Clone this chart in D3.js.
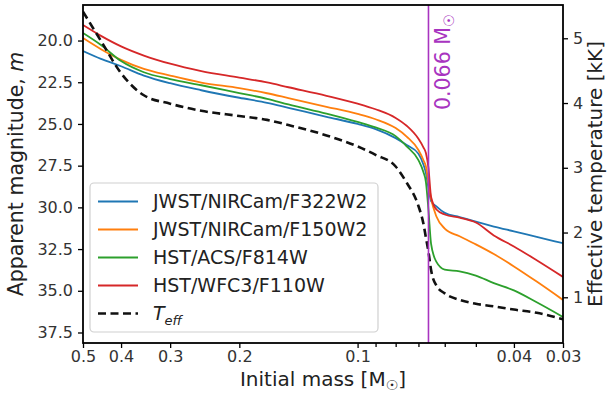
<!DOCTYPE html>
<html>
<head>
<meta charset="utf-8">
<script src="https://cdn.jsdelivr.net/npm/d3@7"></script>
<style>
  html, body { margin: 0; padding: 0; background: #fff; }
  svg { display: block; font-family: "DejaVu Sans", sans-serif; }
</style>
</head>
<body>
<svg id="chart" width="608" height="400"></svg>
<script>
// ---------------- data ----------------
const masses = [0.5, 0.45, 0.4, 0.35, 0.3, 0.25, 0.2, 0.17, 0.15, 0.12, 0.1, 0.09, 0.08, 0.075, 0.07, 0.068, 0.067, 0.066, 0.065, 0.063, 0.06, 0.055, 0.05, 0.045, 0.04, 0.035, 0.03];
const magF322W2 = [20.63, 21.10, 21.54, 22.10, 22.56, 22.98, 23.43, 23.73, 24.03, 24.57, 25.00, 25.31, 25.85, 26.26, 26.78, 27.43, 27.94, 28.84, 29.62, 29.94, 30.33, 30.58, 30.86, 31.15, 31.44, 31.77, 32.15];
const magF150W2 = [19.85, 20.52, 21.16, 21.70, 22.10, 22.52, 22.85, 23.16, 23.45, 23.97, 24.40, 24.72, 25.25, 25.76, 26.56, 27.16, 27.55, 28.54, 29.47, 30.55, 31.27, 31.73, 32.22, 32.80, 33.54, 34.45, 35.55];
const magF814W  = [19.55, 20.27, 21.23, 21.90, 22.31, 22.68, 23.15, 23.49, 23.83, 24.38, 24.88, 25.21, 25.73, 26.34, 27.17, 27.88, 28.48, 30.16, 32.19, 33.27, 33.73, 33.83, 34.09, 34.54, 34.98, 35.69, 36.57];
const magF110W  = [19.07, 19.72, 20.35, 20.90, 21.39, 21.83, 22.22, 22.51, 22.80, 23.31, 23.78, 24.12, 24.64, 25.11, 25.89, 26.40, 26.74, 27.64, 29.38, 30.13, 30.43, 30.62, 30.91, 31.68, 32.34, 33.17, 34.17];
const teffKK    = [5.41, 4.96, 4.46, 4.12, 3.99, 3.88, 3.80, 3.74, 3.66, 3.50, 3.33, 3.20, 3.02, 2.77, 2.41, 2.14, 1.92, 1.70, 1.42, 1.18, 1.06, 0.96, 0.90, 0.86, 0.81, 0.76, 0.66];

const seriesNames = ["JWST/NIRCam/F322W2", "JWST/NIRCam/F150W2", "HST/ACS/F814W", "HST/WFC3/F110W"];
const seriesColors = ["#1f77b4", "#ff7f0e", "#2ca02c", "#d62728"];
const seriesValues = [magF322W2, magF150W2, magF814W, magF110W];

const xTickValues = [0.5, 0.4, 0.3, 0.2, 0.1, 0.04, 0.03];
const xMinorTicks = [0.09, 0.08, 0.07, 0.06, 0.05];
const magTicks = [20.0, 22.5, 25.0, 27.5, 30.0, 32.5, 35.0, 37.5];
const teffTicks = [1, 2, 3, 4, 5];
const limitMass = 0.066;

// ---------------- layout ----------------
const L = 83, R = 563, T = 5, B = 343;
const svg = d3.select("#chart");

const x = d3.scaleLog().domain([0.5, 0.03]).range([L, R]);
const y = d3.scaleLinear().domain([17.87, 38.13]).range([T, B]);
const yT = d3.scaleLinear().domain([0.294, 5.514]).range([B, T]);

svg.append("defs").append("clipPath").attr("id", "clip")
  .append("rect").attr("x", L).attr("y", T).attr("width", R - L).attr("height", B - T);

const plot = svg.append("g").attr("clip-path", "url(#clip)");

const lineMag = d3.line().curve(d3.curveMonotoneX)
  .x((d, i) => x(masses[i])).y(d => y(d));
const lineT = d3.line().curve(d3.curveMonotoneX)
  .x((d, i) => x(masses[i])).y(d => yT(d));

seriesValues.forEach((vals, k) => {
  plot.append("path").datum(vals).attr("d", lineMag)
    .attr("fill", "none").attr("stroke", seriesColors[k]).attr("stroke-width", 1.8);
});
plot.append("path").datum(teffKK).attr("d", lineT)
  .attr("fill", "none").attr("stroke", "#111").attr("stroke-width", 2.6)
  .attr("stroke-dasharray", "8,4.5");

// vertical line at limit mass
const vColor = "#a834c0";
plot.append("line")
  .attr("x1", x(limitMass)).attr("x2", x(limitMass)).attr("y1", T).attr("y2", B)
  .attr("stroke", vColor).attr("stroke-width", 1.6);
const vt = svg.append("text")
  .attr("transform", `translate(${x(limitMass) + 21.5},110) rotate(-90)`)
  .attr("fill", vColor).attr("font-size", 20.5);
vt.append("tspan").text(limitMass.toFixed(3) + " M");
vt.append("tspan").attr("font-size", 14.5).attr("dy", 4).text("\u2609");

// ---------------- axes ----------------
const tickColor = "#333";
const xAxis = d3.axisBottom(x).tickValues(xTickValues).tickFormat(d => String(d)).tickSize(5).tickPadding(3);
const gx = svg.append("g").attr("transform", `translate(0,${B})`).call(xAxis);
const gxm = svg.append("g").attr("transform", `translate(0,${B})`)
  .call(d3.axisBottom(x).tickValues(xMinorTicks).tickFormat("").tickSize(4));

const gyl = svg.append("g").attr("transform", `translate(${L},0)`)
  .call(d3.axisLeft(y).tickValues(magTicks).tickFormat(d3.format(".1f")).tickSize(5).tickPadding(5));
const gyr = svg.append("g").attr("transform", `translate(${R},0)`)
  .call(d3.axisRight(yT).tickValues(teffTicks).tickFormat(d3.format("d")).tickSize(5).tickPadding(5));

[gx, gxm, gyl, gyr].forEach(g => {
  g.select(".domain").remove();
  g.selectAll(".tick line").attr("stroke", "#000").attr("stroke-width", 1.3);
  g.selectAll(".tick text").attr("fill", tickColor).attr("font-size", 16)
    .attr("font-family", "DejaVu Sans");
});

// frame
svg.append("rect").attr("x", L).attr("y", T).attr("width", R - L).attr("height", B - T)
  .attr("fill", "none").attr("stroke", "#000").attr("stroke-width", 1.8);

// axis labels
const xl = svg.append("text").attr("x", (L + R) / 2).attr("y", 386)
  .attr("text-anchor", "middle").attr("font-size", 20).attr("fill", "#222");
xl.append("tspan").text("Initial mass [M");
xl.append("tspan").attr("font-size", 14).attr("dy", 4).text("\u2609");
xl.append("tspan").attr("dy", -4).text("]");

const yl = svg.append("text").attr("transform", `translate(23,${(T + B) / 2}) rotate(-90)`)
  .attr("text-anchor", "middle").attr("font-size", 20.5).attr("fill", "#222");
yl.append("tspan").text("Apparent magnitude, ");
yl.append("tspan").attr("font-style", "italic").text("m");

svg.append("text").attr("transform", `translate(602,${(T + B) / 2}) rotate(-90)`)
  .attr("text-anchor", "middle").attr("font-size", 20).attr("fill", "#222")
  .text("Effective temperature [kK]");

// ---------------- legend ----------------
const lg = svg.append("g");
lg.append("rect").attr("x", 90).attr("y", 183).attr("width", 288).attr("height", 149)
  .attr("rx", 4).attr("fill", "#fff").attr("fill-opacity", 0.8)
  .attr("stroke", "#d0d0d0").attr("stroke-width", 1.2);
const rowY = i => 201.5 + i * 28;
seriesNames.forEach((name, i) => {
  lg.append("line").attr("x1", 98).attr("x2", 138).attr("y1", rowY(i)).attr("y2", rowY(i))
    .attr("stroke", seriesColors[i]).attr("stroke-width", 1.8);
  lg.append("text").attr("x", 153).attr("y", rowY(i)).attr("dy", "0.36em")
    .attr("font-size", 19).attr("fill", "#222").text(name);
});
lg.append("line").attr("x1", 98).attr("x2", 138).attr("y1", rowY(4)).attr("y2", rowY(4))
  .attr("stroke", "#111").attr("stroke-width", 2.6).attr("stroke-dasharray", "8,4.5");
const tl = lg.append("text").attr("x", 153).attr("y", rowY(4)).attr("dy", "0.36em")
  .attr("font-size", 19).attr("fill", "#222").attr("font-style", "italic");
tl.append("tspan").text("T");
tl.append("tspan").attr("font-size", 13).attr("dy", 5).text("eff");
</script>
</body>
</html>
